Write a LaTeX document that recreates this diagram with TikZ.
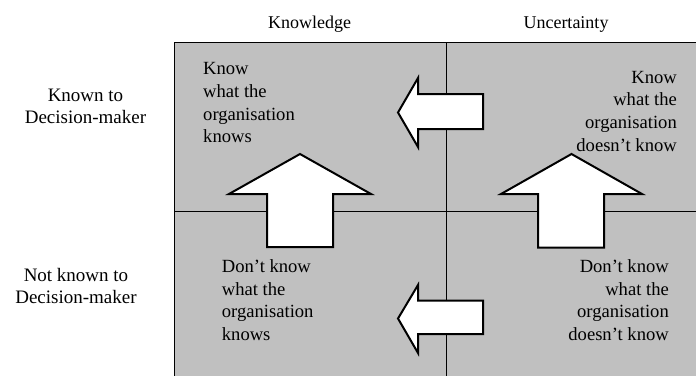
\documentclass[tikz,border=0pt]{standalone}
\usepackage{fontspec}
\setmainfont{Liberation Serif}
\definecolor{cellgray}{HTML}{C0C0C0}
\tikzset{
  txt/.style={inner sep=0pt, font=\fontsize{18.6}{22.7}\selectfont},
  head/.style={inner sep=0pt, font=\fontsize{18}{22}\selectfont},
  grid/.style={draw=black, line width=1pt},
  arrowshape/.style={draw=black, fill=white, line width=2pt, line join=miter}
}
\begin{document}
\begin{tikzpicture}[x=1pt,y=-1pt]
\useasboundingbox (0,0) rectangle (696,375);
\begin{scope}
\clip (0,0) rectangle (696,375);
\fill[cellgray] (174,42) rectangle (700,380);
\draw[grid] (174,380) -- (174,42) -- (700,42);
\draw[grid] (174,211.5) -- (700,211.5);
\draw[grid] (446,42) -- (446,380);
\end{scope}
% arrows
\draw[arrowshape] (483,94) -- (418,94) -- (418,78) -- (398,112.5) -- (418,147) -- (418,129) -- (483,129) -- cycle;
\draw[arrowshape] (483,300.5) -- (418,300.5) -- (418,285) -- (398,318.5) -- (418,353) -- (418,334) -- (483,334) -- cycle;
\draw[arrowshape] (267,247) -- (267,194) -- (229,194) -- (300,154) -- (371,194) -- (333,194) -- (333,247) -- cycle;
\draw[arrowshape] (538,247.5) -- (538,194) -- (501,194) -- (571.5,154) -- (642,194) -- (604,194) -- (604,247.5) -- cycle;
% headers
\node[head, anchor=base] (hk) at (309.5,28.3) {Knowledge};
\node[head, anchor=base] (hu) at (566,28.3) {Uncertainty};
\node[txt, anchor=north, align=center, font=\fontsize{19}{22}\selectfont] (rk) at (85.5,89) {Known to\\Decision-maker};
\node[txt, anchor=north, align=center, font=\fontsize{19}{22}\selectfont] (rn) at (76,268) {Not known to\\Decision-maker};
% cells
\node[txt, anchor=north west, align=left] (tl) at (203,62.3) {Know\\what the\\organisation\\knows};
\node[txt, anchor=north east, align=right] (tr) at (677,70.7) {Know\\what the\\organisation\\doesn't know};
\node[txt, anchor=north west, align=left] (bl) at (221.7,259.3) {Don't know\\what the\\organisation\\knows};
\node[txt, anchor=north east, align=right] (br) at (669,259.3) {Don't know\\what the\\organisation\\doesn't know};
\end{tikzpicture}
\end{document}
